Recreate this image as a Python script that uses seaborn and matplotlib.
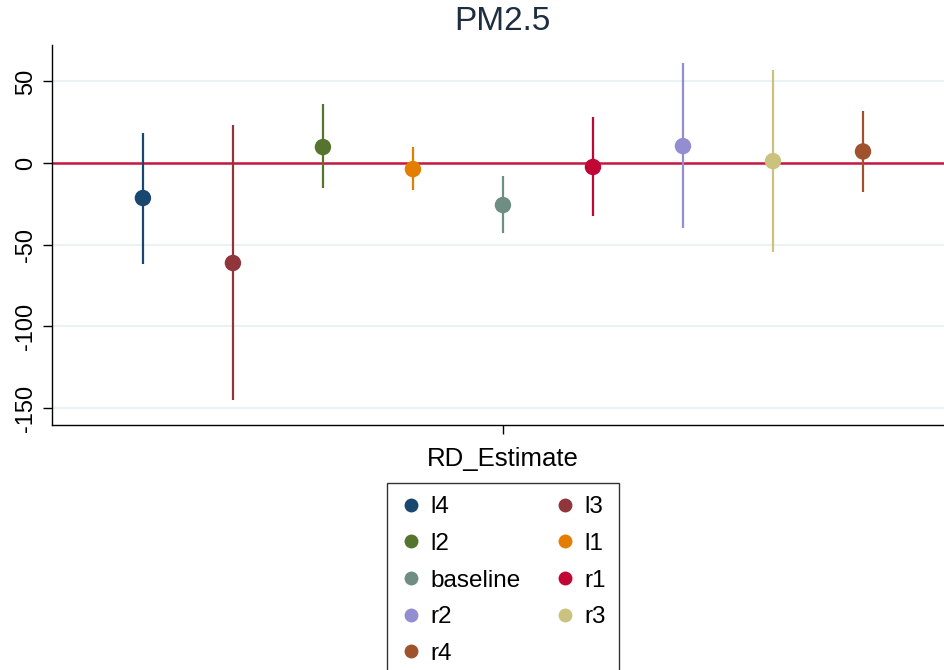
import pandas as pd
import matplotlib.pyplot as plt
import seaborn as sns
from matplotlib.lines import Line2D

# === Data ===
labels = ["l4", "l3", "l2", "l1", "baseline", "r1", "r2", "r3", "r4"]
estimate = [-21.4, -61.2, 9.8, -3.7, -25.7, -2.4, 10.4, 1.2, 7.1]
ci_low = [-61.8, -145.0, -15.3, -16.5, -42.9, -32.5, -39.8, -54.7, -17.8]
ci_high = [18.4, 23.3, 36.0, 9.8, -8.0, 28.2, 61.2, 57.0, 31.8]
colors = ["#1a476f", "#90353b", "#55752f", "#e37e00", "#6e8e84",
          "#c10534", "#938dd2", "#cac27e", "#a0522d"]
yticks = [50, 0, -50, -100, -150]

df = pd.DataFrame({"model": labels, "est": estimate, "lo": ci_low, "hi": ci_high})
df["pos"] = range(len(df))
palette = dict(zip(labels, colors))

plt.rcParams["font.family"] = ["Liberation Sans", "DejaVu Sans"]

fig = plt.figure(figsize=(9.44, 6.7), dpi=100)
ax = fig.add_axes([52 / 944, 1 - 425 / 670, 1 - 52 / 944, (425 - 45) / 670])

# grid + zero line
for t in yticks:
    ax.axhline(t, color="#eaf2f3", lw=1.5, zorder=0)
ax.axhline(0, color="#c8173f", lw=1.8, zorder=1)

# confidence intervals
for _, r in df.iterrows():
    ax.vlines(r["pos"], r["lo"], r["hi"], color=palette[r["model"]], lw=1.6, zorder=2)

sns.scatterplot(data=df, x="pos", y="est", hue="model", palette=palette,
                s=140, edgecolor="none", ax=ax, legend=False, zorder=3)

ax.set_xlim(-1.01, 8.9)
ax.set_ylim(-160.4, 72.3)
ax.set_yticks(yticks)
ax.set_yticklabels([str(t) for t in yticks], rotation=90, va="center", fontsize=17)
ax.set_xticks([4])
ax.set_xticklabels(["RD_Estimate"], fontsize=18.5)
ax.set_xlabel("")
ax.set_ylabel("")
ax.tick_params(axis="both", direction="out", length=6.5, width=1, color="black", pad=4)
ax.tick_params(axis="x", pad=9)
for side in ["top", "right"]:
    ax.spines[side].set_visible(False)
for side in ["left", "bottom"]:
    ax.spines[side].set_color("black")
    ax.spines[side].set_linewidth(1)

fig.text(502 / 944, 1 - 22 / 670, "PM2.5", ha="center", va="center",
         fontsize=24, color="#1e2d40")

# legend, laid out row-wise like Stata (matplotlib fills columns)
order = ["l4", "l2", "baseline", "r2", "r4", "l3", "l1", "r1", "r3"]
handles = [Line2D([], [], marker="o", ls="none", markersize=10,
                  markerfacecolor=palette[k], markeredgecolor="none") for k in order]
leg = fig.legend(handles, order, loc="upper center", ncol=2,
                 bbox_to_anchor=(503 / 944, 1 - 483 / 670), fontsize=17.5,
                 frameon=True, fancybox=False, edgecolor="black",
                 labelspacing=0.6, columnspacing=1.35, handletextpad=0.35,
                 handlelength=0.9, borderpad=0.55, borderaxespad=0)
leg.get_frame().set_linewidth(1)

plt.savefig("out.png", dpi=100)
